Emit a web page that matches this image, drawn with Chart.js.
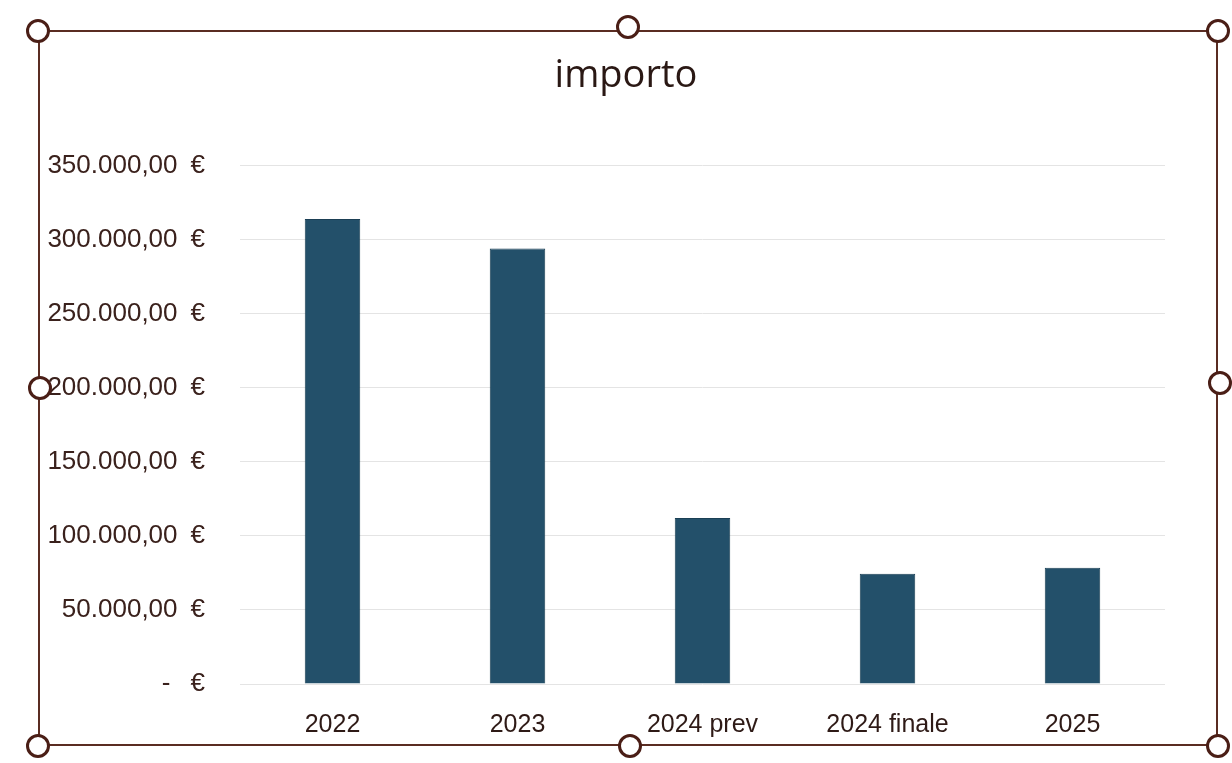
<!DOCTYPE html>
<html>
<head>
<meta charset="utf-8">
<script src="https://cdn.jsdelivr.net/npm/chart.js@4.4.1/dist/chart.umd.min.js"></script>
<style>
  body { margin: 0; background: #fff; width: 1232px; height: 763px; overflow: hidden; position: relative; }
  #chart { position: absolute; left: 0; top: 0; }
  #cornice {
    position: absolute; left: 38px; top: 30px; width: 1180px; height: 716px;
    border: 2px solid #5a2c22; box-sizing: border-box;
  }
  .maniglia {
    position: absolute; width: 24px; height: 24px; border-radius: 50%;
    border: 3px solid #4a1e16; background: #fff; box-sizing: border-box;
  }
</style>
</head>
<body>
<canvas id="chart" width="1252" height="763"></canvas>
<div id="cornice"></div>
<div class="maniglia" style="left:26px;top:19px"></div>
<div class="maniglia" style="left:616px;top:15px"></div>
<div class="maniglia" style="left:1206px;top:19px"></div>
<div class="maniglia" style="left:28px;top:376px"></div>
<div class="maniglia" style="left:1208px;top:371px"></div>
<div class="maniglia" style="left:26px;top:734px"></div>
<div class="maniglia" style="left:618px;top:734px"></div>
<div class="maniglia" style="left:1206px;top:734px"></div>
<script>
// Dati del grafico
const categorie = ['2022', '2023', '2024 prev', '2024 finale', '2025'];
const importi = [314000, 294000, 112000, 74500, 78500];
const tickValori = [0, 50000, 100000, 150000, 200000, 250000, 300000, 350000];

const fontAssi = "'Liberation Sans', Arial, sans-serif";
const fontTitolo = "'Open Sans', 'Liberation Sans', sans-serif";

// formato euro all'italiana
function euro(v) {
    if (v === 0) return '-\u2002 €';
    const parti = v.toFixed(2).split('.');
    const intera = parti[0].replace(/\B(?=(\d{3})+(?!\d))/g, '.');
    return intera + ',' + parti[1] + '\u2002€';
}

const ctx = document.getElementById('chart').getContext('2d');
const grafico = new Chart(ctx, {
    type: 'bar',
    data: {
        labels: categorie,
        datasets: [{
            label: 'importo',
            data: importi,
            backgroundColor: '#23506a',
            borderColor: '#1b3f55',
            borderWidth: 1,
            categoryPercentage: 1,
            barPercentage: 0.3
        }]
    },
    options: {
        responsive: false,
        animation: false,
        layout: { padding: { left: 0, right: 0, bottom: 5, top: 0 } },
        plugins: {
            legend: { display: false },
            tooltip: { enabled: false },
            title: {
                display: true,
                text: 'importo',
                color: '#2a1814',
                font: { family: fontTitolo, size: 38, weight: 'normal' },
                padding: { top: 53, bottom: 67 }
            }
        },
        scales: {
            x: {
                grid: { display: false },
                border: { display: false },
                ticks: {
                    color: '#2e1a16',
                    font: { family: fontAssi, size: 25 },
                    padding: 18
                }
            },
            y: {
                min: 0,
                max: 350000,
                afterBuildTicks: scale => {
                    scale.ticks = tickValori.map(v => ({ value: v }));
                },
                afterFit: scale => { scale.width = 240; },
                grid: { color: '#e4e4e4', lineWidth: 1, drawTicks: false },
                border: { display: false },
                ticks: {
                    color: '#3a211c',
                    font: { family: fontAssi, size: 26 },
                    padding: 35,
                    callback: v => euro(v)
                }
            },
            // asse vuoto a destra, solo per lo spazio
            destra: {
                type: 'linear',
                position: 'right',
                grid: { display: false },
                border: { display: false },
                ticks: { display: false },
                afterFit: scale => { scale.width = 87; }
            }
        }
    }
});
</script>
</body>
</html>
